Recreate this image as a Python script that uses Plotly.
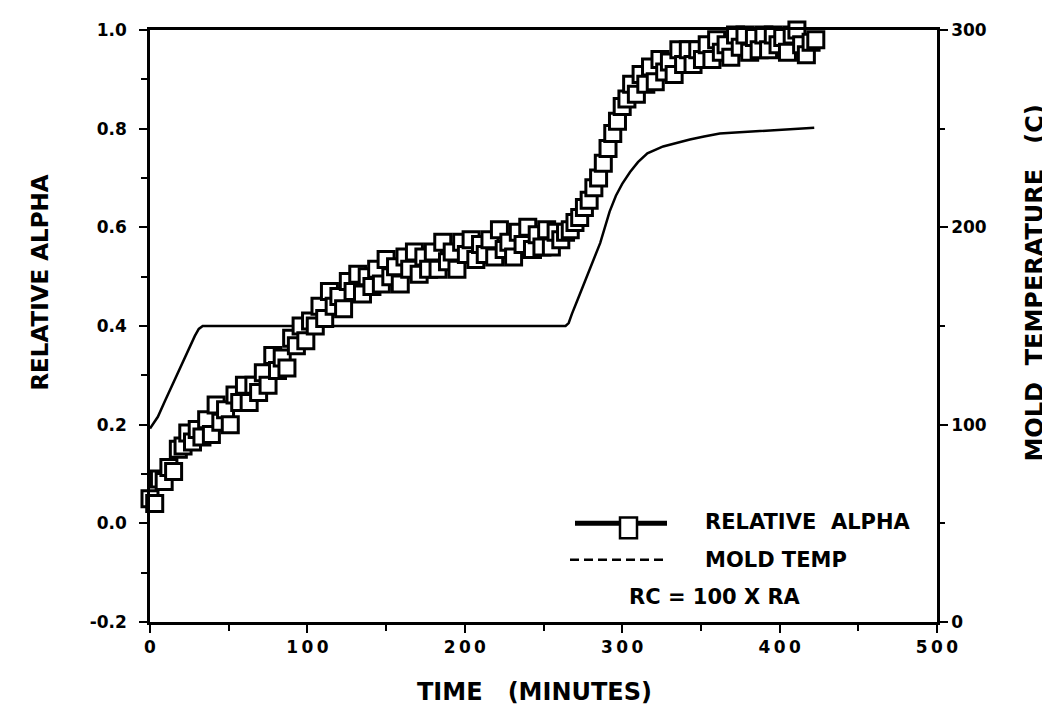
import plotly.graph_objects as go

# ---- data ----
time_min = [0, 3, 6, 9, 12, 15, 18, 21, 24, 27, 30, 33,
            36, 39, 42, 45, 48, 51, 54, 57, 60, 63, 66, 69,
            72, 75, 78, 81, 84, 87, 90, 93, 96, 99, 102, 105,
            108, 111, 114, 117, 120, 123, 126, 129, 132, 135, 138, 141,
            144, 147, 150, 153, 156, 159, 162, 165, 168, 171, 174, 177,
            180, 183, 186, 189, 192, 195, 198, 201, 204, 207, 210, 213,
            216, 219, 222, 225, 228, 231, 234, 237, 240, 243, 246, 249,
            252, 255, 258, 261, 264, 267, 270, 273, 276, 279, 282, 285,
            288, 291, 294, 297, 300, 303, 306, 309, 312, 315, 318, 321,
            324, 327, 330, 333, 336, 339, 342, 345, 348, 351, 354, 357,
            360, 363, 366, 369, 372, 375, 378, 381, 384, 387, 390, 393,
            396, 399, 402, 405, 408, 411, 414, 417, 420, 423]

relative_alpha = [0.05, 0.04, 0.09, 0.085, 0.113, 0.105, 0.15, 0.157, 0.183, 0.165, 0.19, 0.175,
                  0.21, 0.18, 0.24, 0.205, 0.23, 0.20, 0.26, 0.245, 0.28, 0.245, 0.28, 0.265,
                  0.305, 0.28, 0.34, 0.31, 0.335, 0.315, 0.375, 0.36, 0.40, 0.37, 0.41, 0.40,
                  0.44, 0.415, 0.47, 0.44, 0.46, 0.435, 0.49, 0.47, 0.505, 0.465, 0.50, 0.48,
                  0.515, 0.485, 0.535, 0.50, 0.52, 0.485, 0.54, 0.515, 0.55, 0.505, 0.54, 0.515,
                  0.55, 0.515, 0.57, 0.53, 0.55, 0.515, 0.57, 0.545, 0.575, 0.535, 0.565, 0.545,
                  0.575, 0.54, 0.595, 0.555, 0.57, 0.54, 0.59, 0.565, 0.60, 0.555, 0.585, 0.56,
                  0.595, 0.56, 0.59, 0.575, 0.59, 0.595, 0.61, 0.62, 0.64, 0.655, 0.68, 0.70,
                  0.73, 0.76, 0.79, 0.815, 0.845, 0.86, 0.89, 0.87, 0.91, 0.89, 0.925, 0.895,
                  0.94, 0.915, 0.935, 0.91, 0.96, 0.93, 0.96, 0.93, 0.96, 0.94, 0.97, 0.94,
                  0.98, 0.955, 0.97, 0.945, 0.99, 0.965, 0.99, 0.955, 0.985, 0.96, 0.99, 0.96,
                  0.99, 0.97, 0.985, 0.955, 0.99, 1.0, 0.97, 0.95, 0.975, 0.98]

temp_time = [0, 5, 9.5, 14, 18, 24, 28.5, 31, 33.5, 36, 100, 200, 264, 266, 268, 273, 279.5, 286,
             292, 296, 300, 305, 310, 316, 326, 335, 343, 352, 362, 372, 381, 395, 407, 422]
mold_temp = [98, 104, 112, 120, 127, 137, 145, 148.5, 150, 150, 150, 150, 150, 151.5, 156, 166, 179, 192,
             208, 216, 222, 228, 233, 237.5, 241, 243, 244.5, 246, 247.5, 248, 248.5, 249, 250, 250.5]

x_tick_vals = [0, 100, 200, 300, 400, 500]
x_tick_text = ["0", "1\u20090\u20090", "2\u20090\u20090", "3\u20090\u20090", "4\u20090\u20090", "5\u20090\u20090"]
x_minor_vals = [50, 150, 250, 350, 450]
alpha_tick_vals = [-0.2, 0.0, 0.2, 0.4, 0.6, 0.8, 1.0]
alpha_tick_text = ["-0.2", "0.0", "0.2", "0.4", "0.6", "0.8", "1.0"]
alpha_minor_vals = [-0.1, 0.1, 0.3, 0.5, 0.7, 0.9]
temp_tick_vals = [0, 100, 200, 300]
temp_minor_vals = [50, 150, 250]

FONT = "DejaVu Sans"
BLACK = "#000000"

fig = go.Figure()

# mold temperature (primary y = right axis, drawn underneath)
fig.add_trace(go.Scatter(
    x=temp_time, y=mold_temp, mode="lines", name="MOLD TEMP",
    line=dict(color=BLACK, width=2.5),
    yaxis="y", showlegend=False,
))

# relative alpha (overlay axis on the left, drawn on top)
fig.add_trace(go.Scatter(
    x=time_min, y=relative_alpha, mode="markers", name="RELATIVE ALPHA",
    marker=dict(symbol="square", size=16, color="white",
                line=dict(color=BLACK, width=3)),
    yaxis="y2", cliponaxis=False, showlegend=False,
))

# The page body has an 8 px margin; target pixel positions are shifted back by it.
OFF = 8
W, H = 1050 - OFF, 723 - OFF
ML, MT = 150 - OFF, 22 - OFF
PLOT_R, PLOT_B = 937 - OFF, 622 - OFF
MR, MB = W - PLOT_R, H - PLOT_B
PW, PH = PLOT_R - ML, PLOT_B - MT


def px(xp):
    return (xp - OFF - ML) / PW


def py(yp):
    return (PLOT_B - (yp - OFF)) / PH


tickfont = dict(family=FONT, size=17, color=BLACK, weight="bold")

fig.update_layout(
    width=W, height=H, autosize=False,
    margin=dict(l=ML, r=MR, t=MT, b=MB, pad=0),
    paper_bgcolor="white", plot_bgcolor="white",
    showlegend=False,
    xaxis=dict(
        range=[0, 500], showgrid=False, zeroline=False,
        showline=True, linecolor=BLACK, linewidth=2.5, mirror=True,
        ticks="outside", ticklen=8, tickwidth=2, tickcolor=BLACK,
        tickvals=x_tick_vals, ticktext=x_tick_text, tickfont=tickfont,
        minor=dict(tickvals=x_minor_vals, ticks="outside", ticklen=6,
                   tickwidth=2, tickcolor=BLACK, showgrid=False),
    ),
    yaxis=dict(
        range=[0, 300], side="right", showgrid=False, zeroline=False,
        showline=True, linecolor=BLACK, linewidth=2.5,
        ticks="outside", ticklen=8, tickwidth=2, tickcolor=BLACK,
        tickvals=temp_tick_vals, tickfont=tickfont,
        minor=dict(tickvals=temp_minor_vals, ticks="outside", ticklen=5,
                   tickwidth=2, tickcolor=BLACK, showgrid=False),
    ),
    yaxis2=dict(
        range=[-0.2, 1.0], side="left", overlaying="y", showgrid=False,
        zeroline=False, showline=True, linecolor=BLACK, linewidth=2.5,
        ticks="outside", ticklen=8, tickwidth=2, tickcolor=BLACK,
        tickvals=alpha_tick_vals, ticktext=alpha_tick_text, tickfont=tickfont,
        ticklabelstandoff=9,
        minor=dict(tickvals=alpha_minor_vals, ticks="outside", ticklen=6,
                   tickwidth=2, tickcolor=BLACK, showgrid=False),
    ),
)

title_font = dict(family=FONT, size=23, color=BLACK, weight="bold")
rtitle_font = dict(family=FONT, size=24, color=BLACK, weight="bold")
xtitle_font = dict(family=FONT, size=24, color=BLACK, weight="bold")
legend_font = dict(family=FONT, size=21, color=BLACK, weight="bold")
NB = "\u00a0"

annotations = [
    dict(text="RELATIVE" + NB + "ALPHA", x=px(40), y=py(278), textangle=-90,
         font=title_font, showarrow=False, xref="paper", yref="paper",
         xanchor="center", yanchor="middle"),
    dict(text="MOLD" + NB * 2 + "TEMPERATURE" + NB * 3 + "(C)", x=px(1035), y=py(279), textangle=-90,
         font=rtitle_font, showarrow=False, xref="paper", yref="paper",
         xanchor="center", yanchor="middle"),
    dict(text="TIME" + NB * 3 + "(MINUTES)", x=px(534), y=py(693),
         font=xtitle_font, showarrow=False, xref="paper", yref="paper",
         xanchor="center", yanchor="middle"),
    dict(text="RELATIVE" + NB * 2 + "ALPHA", x=px(703), y=py(521), font=legend_font,
         showarrow=False, xref="paper", yref="paper", xanchor="left", yanchor="middle"),
    dict(text="MOLD" + NB + "TEMP", x=px(703), y=py(559), font=legend_font,
         showarrow=False, xref="paper", yref="paper", xanchor="left", yanchor="middle"),
    dict(text="RC = 100 X RA", x=px(627), y=py(597), font=legend_font,
         showarrow=False, xref="paper", yref="paper", xanchor="left", yanchor="middle"),
]
fig.update_layout(annotations=annotations)

shapes = [
    dict(type="line", xref="paper", yref="paper", x0=px(575), x1=px(667),
         y0=py(522), y1=py(522), line=dict(color=BLACK, width=5)),
    dict(type="rect", xref="paper", yref="paper", x0=px(620), x1=px(637),
         y0=py(537), y1=py(516), fillcolor="white", line=dict(color=BLACK, width=2.5)),
    dict(type="line", xref="paper", yref="paper", x0=px(570), x1=px(665),
         y0=py(559), y1=py(559), line=dict(color=BLACK, width=2.5, dash="9px,5px")),
]
fig.update_layout(shapes=shapes)

fig.write_html("out.html")
